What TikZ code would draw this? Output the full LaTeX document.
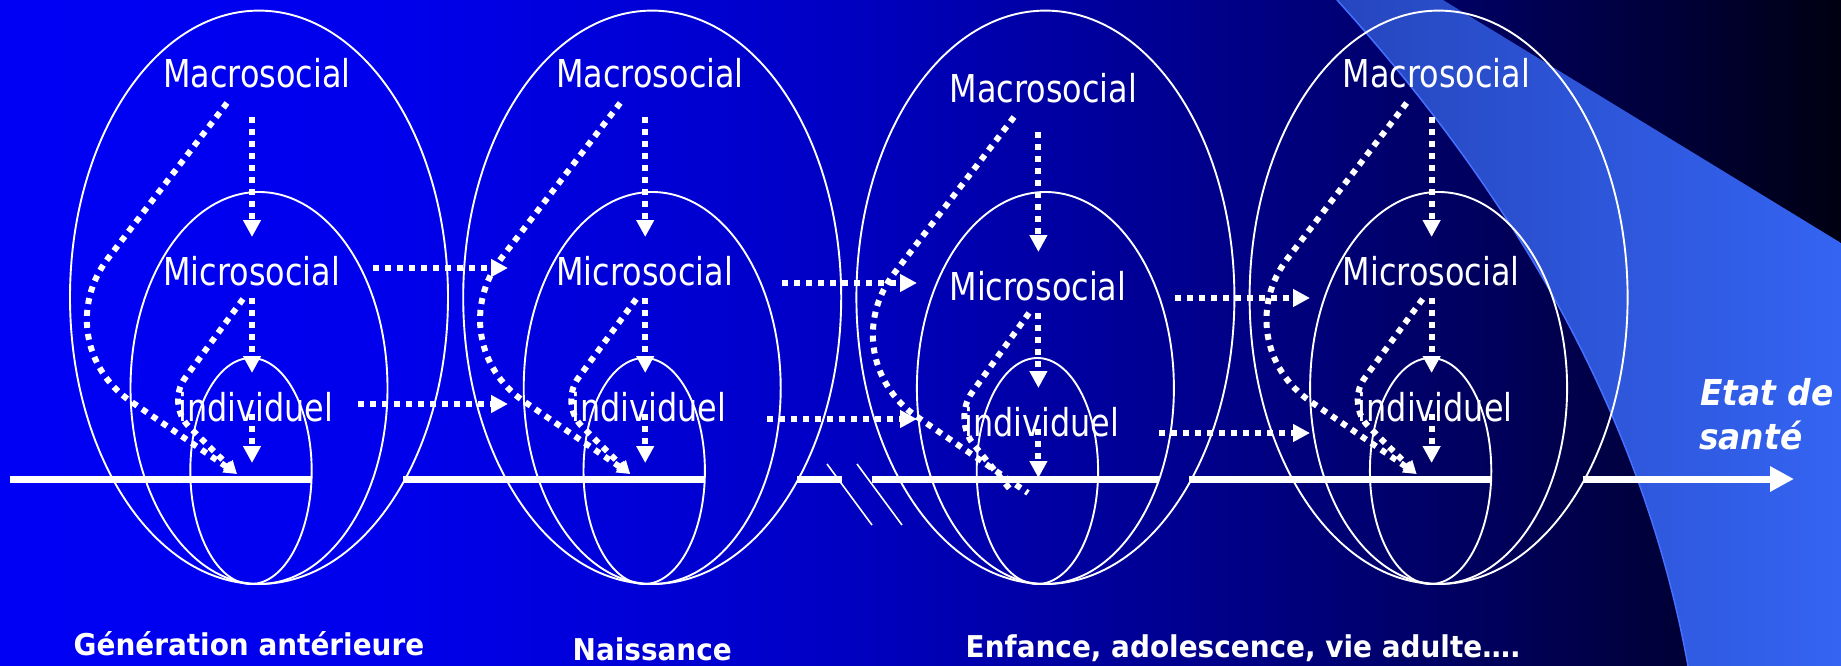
\documentclass[tikz,border=0pt]{standalone}
\usepackage{fontspec}
\setmainfont{DejaVu Sans}
\newfontfamily\tahfont[FakeStretch=0.83]{DejaVu Sans}
\newfontfamily\heavyfont[FakeStretch=0.93]{DejaVu Sans}
\newfontfamily\goalfont[FakeStretch=0.92]{DejaVu Sans}
\usetikzlibrary{shapes.geometric,arrows.meta}
\definecolor{bgA}{RGB}{0,0,245}
\definecolor{bgB}{RGB}{0,0,235}
\definecolor{bgC}{RGB}{0,0,200}
\definecolor{bgD}{RGB}{0,0,140}
\definecolor{bgE}{RGB}{0,0,90}
\definecolor{bgF}{RGB}{0,0,50}
\definecolor{bgG}{RGB}{0,0,18}
\definecolor{swL}{RGB}{38,70,190}
\definecolor{swR}{RGB}{52,100,242}
\definecolor{swEdge}{RGB}{70,112,255}
\begin{document}
\begin{tikzpicture}[x=1pt,y=-1pt,
  ring/.style={draw=white, line width=1.9pt, ellipse, inner sep=0pt, outer sep=0pt},
  lvl/.style={text=white, inner sep=0pt, anchor=base west, font=\tahfont\fontsize{38.4}{46}\selectfont},
  era/.style={text=white, inner sep=0pt, anchor=base west, font=\heavyfont\bfseries\fontsize{30}{36}\selectfont},
  goal/.style={text=white, inner sep=0pt, anchor=base west, font=\goalfont\bfseries\itshape\fontsize{35.7}{44}\selectfont},
  dotline/.style={draw=white, line width=6pt, dash pattern=on 6pt off 6pt},
  dotarrow/.style={dotline, -{Triangle[length=17pt,width=17pt]}},
  tipcurve/.style={dotline, -{Triangle[length=13pt,width=13pt]}},
  axisline/.style={draw=white, line width=7pt},
  brk/.style={draw=white, line width=1.6pt}]

% background gradient
\shade[left color=bgA, right color=bgB] (0,0) rectangle (401,666);
\shade[left color=bgB, right color=bgC] (400,0) rectangle (801,666);
\shade[left color=bgC, right color=bgD] (800,0) rectangle (1201,666);
\shade[left color=bgD, right color=bgE] (1200,0) rectangle (1501,666);
\shade[left color=bgE, right color=bgF] (1500,0) rectangle (1701,666);
\shade[left color=bgF, right color=bgG] (1700,0) rectangle (1841,666);

% swoosh
\shade[left color=swL, right color=swR] (1337,0) .. controls (1500,180) and (1640,400) .. (1688,666) -- (1841,666) -- (1841,243) -- (1443,0) -- cycle;
\draw[swEdge, line width=1.5pt] (1337,0) .. controls (1500,180) and (1640,400) .. (1688,666);

% ellipses
\foreach \i/\cx in {1/259, 2/652.2, 3/1045.4, 4/1438.6} {
  \node[ring, minimum width=378pt, minimum height=573.4pt] (outer\i) at (\cx,297.3) {};
  \node[ring, minimum width=257pt, minimum height=392pt] (middle\i) at (\cx,388) {};
  \node[ring, minimum width=121.4pt, minimum height=226pt] (inner\i) at (\cx-8,471) {};
}

% time line
\coordinate (ta1) at (10,479);   \coordinate (tb1) at (312,479);
\coordinate (ta2) at (403,479);  \coordinate (tb2) at (705,479);
\coordinate (ta3) at (797,479);  \coordinate (tb3) at (842,479);
\coordinate (ta4) at (872,479);  \coordinate (tb4) at (1159,479);
\coordinate (ta5) at (1189,479); \coordinate (tb5) at (1491,479);
\coordinate (ta6) at (1583,479); \coordinate (tb6) at (1794,479);
\foreach \k in {1,...,5} { \draw[axisline] (ta\k) -- (tb\k); }
\draw[axisline, -{Triangle[length=24pt,width=24pt]}] (ta6) -- (tb6);
\coordinate (bka) at (827,464); \coordinate (bkb) at (872,525);
\coordinate (bkc) at (857,464); \coordinate (bkd) at (902,525);
\draw[brk] (bka) -- (bkb);
\draw[brk] (bkc) -- (bkd);

% levels, vertical arrows
\foreach \i/\cx/\dy in {1/259/0, 2/652.2/0, 3/1045.4/15, 4/1438.6/0} {
  \node[lvl] (macro\i) at (\cx-96, 88+\dy) {Macrosocial};
  \node[lvl] (micro\i) at (\cx-96, 285+\dy) {Microsocial};
  \node[lvl] (indiv\i) at (\cx-81, 421+\dy) {individuel};
  \coordinate (va\i) at (\cx-7, 117+\dy); \coordinate (vb\i) at (\cx-7, 237+\dy);
  \coordinate (vc\i) at (\cx-7, 298+\dy); \coordinate (vd\i) at (\cx-7, 373+\dy);
  \coordinate (ve\i) at (\cx-7, 414+\dy); \coordinate (vf\i) at (\cx-7, 463+\dy);
  \draw[dotarrow] (va\i) -- (vb\i);
  \draw[dotarrow] (vc\i) -- (vd\i);
  \draw[dotarrow] (ve\i) -- (vf\i);
}

% curved influences
\foreach \i/\cx in {1/259, 2/652.2, 4/1438.6} {
  \coordinate (ms\i) at (\cx-32,103); \coordinate (mc\i) at (\cx-215,342); \coordinate (me\i) at (\cx-22,474);
  \coordinate (ns\i) at (\cx-16,299); \coordinate (nc\i) at (\cx-93,404);  \coordinate (ne\i) at (\cx-22,474);
  \draw[tipcurve, rounded corners=105pt] (ms\i) -- (mc\i) -- (me\i);
  \draw[tipcurve, rounded corners=32pt] (ns\i) -- (nc\i) -- (ne\i);
}
\coordinate (ms3) at (1014,117); \coordinate (mc3) at (830,357); \coordinate (me3) at (1028,493);
\coordinate (ns3) at (1029,313); \coordinate (nc3) at (953,419); \coordinate (ne3) at (1013,493);
\draw[dotline, rounded corners=105pt] (ms3) -- (mc3) -- (me3);
\draw[dotline, rounded corners=32pt] (ns3) -- (nc3) -- (ne3);

% horizontal arrows
\coordinate (hua1) at (373,268);  \coordinate (hub1) at (508,268);
\coordinate (hla1) at (358,404);  \coordinate (hlb1) at (508,404);
\coordinate (hua2) at (782,283);  \coordinate (hub2) at (917,283);
\coordinate (hla2) at (767,419);  \coordinate (hlb2) at (917,419);
\coordinate (hua3) at (1175,298); \coordinate (hub3) at (1310,298);
\coordinate (hla3) at (1159,433); \coordinate (hlb3) at (1310,433);
\foreach \k in {1,2,3} {
  \draw[dotarrow] (hua\k) -- (hub\k);
  \draw[dotarrow] (hla\k) -- (hlb\k);
}

% period labels
\node[era] (gen) at (73.5,655) {Génération antérieure};
\node[era] (nais) at (572.5,660) {Naissance};
\node[era] (enf) at (965.5,657) {Enfance, adolescence, vie adulte….};
\node[goal] (etat) at (1700,405) {Etat de};
\node[goal] (sante) at (1699,449) {santé};

\pgfresetboundingbox
\useasboundingbox (0,0) rectangle (1841,666);
\end{tikzpicture}
\end{document}
